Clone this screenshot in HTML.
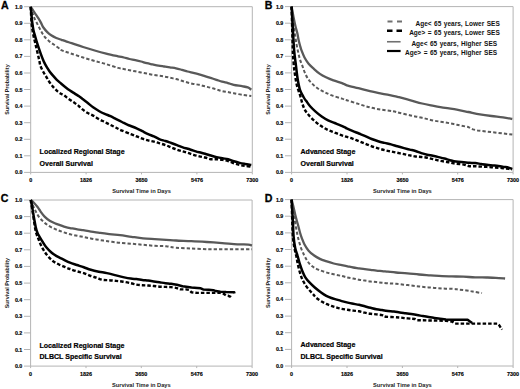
<!DOCTYPE html><html><head><meta charset="utf-8"><style>html,body{margin:0;padding:0;background:#fff;width:520px;height:389px;overflow:hidden}svg{display:block}text{font-family:"Liberation Sans",sans-serif}</style></head><body>
<svg width="520" height="389" viewBox="0 0 520 389">
<rect width="520" height="389" fill="#fff"/>
<path d="M30.7,6.7 H252.3 V172.4 H30.7 Z" fill="none" stroke="#b4b4b4" stroke-width="1"/>
<line x1="24.1" y1="172.4" x2="30.7" y2="172.4" stroke="#b4b4b4" stroke-width="1"/>
<text x="22.4" y="174.4" font-size="5.3" font-weight="bold" text-anchor="end" fill="#000" stroke="#000" stroke-width="0.15">0.0</text>
<line x1="24.1" y1="155.8" x2="30.7" y2="155.8" stroke="#b4b4b4" stroke-width="1"/>
<text x="22.4" y="157.8" font-size="5.3" font-weight="bold" text-anchor="end" fill="#000" stroke="#000" stroke-width="0.15">0.1</text>
<line x1="24.1" y1="139.3" x2="30.7" y2="139.3" stroke="#b4b4b4" stroke-width="1"/>
<text x="22.4" y="141.3" font-size="5.3" font-weight="bold" text-anchor="end" fill="#000" stroke="#000" stroke-width="0.15">0.2</text>
<line x1="24.1" y1="122.7" x2="30.7" y2="122.7" stroke="#b4b4b4" stroke-width="1"/>
<text x="22.4" y="124.7" font-size="5.3" font-weight="bold" text-anchor="end" fill="#000" stroke="#000" stroke-width="0.15">0.3</text>
<line x1="24.1" y1="106.1" x2="30.7" y2="106.1" stroke="#b4b4b4" stroke-width="1"/>
<text x="22.4" y="108.1" font-size="5.3" font-weight="bold" text-anchor="end" fill="#000" stroke="#000" stroke-width="0.15">0.4</text>
<line x1="24.1" y1="89.5" x2="30.7" y2="89.5" stroke="#b4b4b4" stroke-width="1"/>
<text x="22.4" y="91.5" font-size="5.3" font-weight="bold" text-anchor="end" fill="#000" stroke="#000" stroke-width="0.15">0.5</text>
<line x1="24.1" y1="73.0" x2="30.7" y2="73.0" stroke="#b4b4b4" stroke-width="1"/>
<text x="22.4" y="75.0" font-size="5.3" font-weight="bold" text-anchor="end" fill="#000" stroke="#000" stroke-width="0.15">0.6</text>
<line x1="24.1" y1="56.4" x2="30.7" y2="56.4" stroke="#b4b4b4" stroke-width="1"/>
<text x="22.4" y="58.4" font-size="5.3" font-weight="bold" text-anchor="end" fill="#000" stroke="#000" stroke-width="0.15">0.7</text>
<line x1="24.1" y1="39.8" x2="30.7" y2="39.8" stroke="#b4b4b4" stroke-width="1"/>
<text x="22.4" y="41.8" font-size="5.3" font-weight="bold" text-anchor="end" fill="#000" stroke="#000" stroke-width="0.15">0.8</text>
<line x1="24.1" y1="23.3" x2="30.7" y2="23.3" stroke="#b4b4b4" stroke-width="1"/>
<text x="22.4" y="25.3" font-size="5.3" font-weight="bold" text-anchor="end" fill="#000" stroke="#000" stroke-width="0.15">0.9</text>
<line x1="24.1" y1="6.7" x2="30.7" y2="6.7" stroke="#b4b4b4" stroke-width="1"/>
<text x="22.4" y="8.7" font-size="5.3" font-weight="bold" text-anchor="end" fill="#000" stroke="#000" stroke-width="0.15">1.0</text>
<line x1="30.7" y1="172.4" x2="30.7" y2="174.4" stroke="#b4b4b4" stroke-width="1"/>
<text x="30.7" y="182.4" font-size="5.4" font-weight="bold" text-anchor="middle" fill="#000" stroke="#000" stroke-width="0.15">0</text>
<line x1="86.1" y1="172.4" x2="86.1" y2="174.4" stroke="#b4b4b4" stroke-width="1"/>
<text x="86.1" y="182.4" font-size="5.4" font-weight="bold" text-anchor="middle" fill="#000" stroke="#000" stroke-width="0.15">1826</text>
<line x1="141.5" y1="172.4" x2="141.5" y2="174.4" stroke="#b4b4b4" stroke-width="1"/>
<text x="141.5" y="182.4" font-size="5.4" font-weight="bold" text-anchor="middle" fill="#000" stroke="#000" stroke-width="0.15">3650</text>
<line x1="196.9" y1="172.4" x2="196.9" y2="174.4" stroke="#b4b4b4" stroke-width="1"/>
<text x="196.9" y="182.4" font-size="5.4" font-weight="bold" text-anchor="middle" fill="#000" stroke="#000" stroke-width="0.15">5476</text>
<line x1="252.3" y1="172.4" x2="252.3" y2="174.4" stroke="#b4b4b4" stroke-width="1"/>
<text x="252.3" y="182.4" font-size="5.4" font-weight="bold" text-anchor="middle" fill="#000" stroke="#000" stroke-width="0.15">7300</text>
<text x="141.5" y="193.4" font-size="5.7" font-weight="bold" text-anchor="middle" fill="#222">Survival Time in Days</text>
<text transform="translate(9.0,89.5) rotate(-90)" font-size="5.4" font-weight="bold" text-anchor="middle" fill="#222">Survival Probability</text>
<text x="1.0" y="9.0" font-size="10.6" font-weight="bold" fill="#000" stroke="#000" stroke-width="0.3">A</text>
<text x="39.6" y="154.3" font-size="7.05" font-weight="bold" fill="#000" stroke="#000" stroke-width="0.2">Localized Regional Stage</text>
<text x="39.6" y="165.5" font-size="7.05" font-weight="bold" fill="#000" stroke="#000" stroke-width="0.2">Overall Survival</text>
<path d="M30.70,6.80 C31.10,7.40 32.27,9.15 33.10,10.40 C33.93,11.65 34.83,13.02 35.70,14.30 C36.57,15.58 37.43,16.72 38.30,18.10 C39.17,19.48 40.05,21.03 40.90,22.60 C41.75,24.17 42.33,25.92 43.40,27.50 C44.47,29.08 46.00,30.80 47.30,32.10 C48.60,33.40 49.70,34.32 51.20,35.30 C52.70,36.28 54.60,37.25 56.30,38.00 C58.00,38.75 59.68,39.20 61.40,39.80 C63.12,40.40 64.90,41.03 66.60,41.60 C68.30,42.17 68.85,42.30 71.60,43.20 C74.35,44.10 79.25,45.78 83.10,47.00 C86.95,48.22 90.85,49.40 94.70,50.50 C98.55,51.60 102.32,52.63 106.20,53.60 C110.08,54.57 115.07,55.65 118.00,56.30 C120.93,56.95 121.88,57.05 123.80,57.50 C125.72,57.95 127.58,58.57 129.50,59.00 C131.42,59.43 133.37,59.68 135.30,60.10 C137.23,60.52 139.18,60.98 141.10,61.50 C143.02,62.02 144.88,62.72 146.80,63.20 C148.72,63.68 150.67,64.00 152.60,64.40 C154.53,64.80 156.48,65.25 158.40,65.60 C160.32,65.95 162.18,66.20 164.10,66.50 C166.02,66.80 167.92,67.10 169.90,67.40 C171.88,67.70 174.02,67.90 176.00,68.30 C177.98,68.70 179.88,69.27 181.80,69.80 C183.72,70.33 185.58,70.98 187.50,71.50 C189.42,72.02 191.37,72.42 193.30,72.90 C195.23,73.38 197.18,73.87 199.10,74.40 C201.02,74.93 202.88,75.52 204.80,76.10 C206.72,76.68 208.67,77.28 210.60,77.90 C212.53,78.52 214.48,79.17 216.40,79.80 C218.32,80.43 220.18,81.15 222.10,81.70 C224.02,82.25 225.97,82.58 227.90,83.10 C229.83,83.62 231.35,84.28 233.70,84.80 C236.05,85.32 239.65,85.77 242.00,86.20 C244.35,86.63 246.25,86.82 247.80,87.40 C249.35,87.98 250.72,89.32 251.30,89.70" fill="none" stroke="#595959" stroke-width="2.3" stroke-linejoin="round"/>
<path d="M30.70,6.80 C31.00,7.83 31.88,11.12 32.50,13.00 C33.12,14.88 33.65,16.38 34.40,18.10 C35.15,19.82 36.13,21.58 37.00,23.30 C37.87,25.02 38.75,26.80 39.60,28.40 C40.45,30.00 41.25,31.50 42.10,32.90 C42.95,34.30 43.62,35.50 44.70,36.80 C45.78,38.10 47.10,39.42 48.60,40.70 C50.10,41.98 51.98,43.25 53.70,44.50 C55.42,45.75 57.85,47.37 58.90,48.20 C59.95,49.03 59.15,49.00 60.00,49.50 C60.85,50.00 62.07,50.50 64.00,51.20 C65.93,51.90 68.42,52.65 71.60,53.70 C74.78,54.75 79.25,56.28 83.10,57.50 C86.95,58.72 90.85,59.90 94.70,61.00 C98.55,62.10 102.32,62.95 106.20,64.10 C110.08,65.25 115.07,67.08 118.00,67.90 C120.93,68.72 121.88,68.62 123.80,69.00 C125.72,69.38 127.58,69.82 129.50,70.20 C131.42,70.58 133.37,70.92 135.30,71.30 C137.23,71.68 139.18,72.12 141.10,72.50 C143.02,72.88 144.88,73.22 146.80,73.60 C148.72,73.98 150.67,74.47 152.60,74.80 C154.53,75.13 156.48,75.32 158.40,75.60 C160.32,75.88 162.18,76.15 164.10,76.50 C166.02,76.85 167.92,77.28 169.90,77.70 C171.88,78.12 174.02,78.48 176.00,79.00 C177.98,79.52 179.88,80.22 181.80,80.80 C183.72,81.38 185.58,81.98 187.50,82.50 C189.42,83.02 191.37,83.52 193.30,83.90 C195.23,84.28 197.18,84.40 199.10,84.80 C201.02,85.20 202.88,85.82 204.80,86.30 C206.72,86.78 208.67,87.18 210.60,87.70 C212.53,88.22 214.48,88.83 216.40,89.40 C218.32,89.97 220.18,90.65 222.10,91.10 C224.02,91.55 225.97,91.75 227.90,92.10 C229.83,92.45 231.35,92.75 233.70,93.20 C236.05,93.65 239.07,94.33 242.00,94.80 C244.93,95.27 249.75,95.80 251.30,96.00" fill="none" stroke="#595959" stroke-width="2" stroke-dasharray="3.3 2.1" stroke-linejoin="round"/>
<path d="M30.70,6.80 C30.83,8.17 31.25,12.47 31.50,15.00 C31.75,17.53 31.88,19.50 32.20,22.00 C32.52,24.50 32.90,27.58 33.40,30.00 C33.90,32.42 34.60,34.40 35.20,36.50 C35.80,38.60 36.40,40.65 37.00,42.60 C37.60,44.55 38.20,46.40 38.80,48.20 C39.40,50.00 40.00,51.75 40.60,53.40 C41.20,55.05 41.80,56.60 42.40,58.10 C43.00,59.60 43.47,60.88 44.20,62.40 C44.93,63.92 45.90,65.70 46.80,67.20 C47.70,68.70 48.60,70.03 49.60,71.40 C50.60,72.77 51.60,74.00 52.80,75.40 C54.00,76.80 55.43,78.45 56.80,79.80 C58.17,81.15 59.50,82.23 61.00,83.50 C62.50,84.77 64.30,86.23 65.80,87.40 C67.30,88.57 68.50,89.47 70.00,90.50 C71.50,91.53 73.30,92.63 74.80,93.60 C76.30,94.57 77.72,95.42 79.00,96.30 C80.28,97.18 81.13,97.87 82.50,98.90 C83.87,99.93 85.43,101.10 87.20,102.50 C88.97,103.90 91.15,105.88 93.10,107.30 C95.05,108.72 96.97,109.90 98.90,111.00 C100.83,112.10 102.77,113.03 104.70,113.90 C106.63,114.77 108.58,115.33 110.50,116.20 C112.42,117.07 114.28,118.13 116.20,119.10 C118.12,120.07 120.07,121.03 122.00,122.00 C123.93,122.97 126.33,124.23 127.80,124.90 C129.27,125.57 129.33,125.43 130.80,126.00 C132.27,126.57 134.68,127.43 136.60,128.30 C138.52,129.17 140.38,130.23 142.30,131.20 C144.22,132.17 146.17,133.23 148.10,134.10 C150.03,134.97 151.97,135.53 153.90,136.40 C155.83,137.27 157.77,138.53 159.70,139.30 C161.63,140.07 163.58,140.38 165.50,141.00 C167.42,141.62 169.28,142.32 171.20,143.00 C173.12,143.68 175.07,144.37 177.00,145.10 C178.93,145.83 181.00,146.78 182.80,147.40 C184.60,148.02 186.02,148.27 187.80,148.80 C189.58,149.33 191.58,150.02 193.50,150.60 C195.42,151.18 197.37,151.78 199.30,152.30 C201.23,152.82 203.18,153.17 205.10,153.70 C207.02,154.23 208.88,154.93 210.80,155.50 C212.72,156.07 214.67,156.63 216.60,157.10 C218.53,157.57 220.48,157.95 222.40,158.30 C224.32,158.65 226.18,158.70 228.10,159.20 C230.02,159.70 231.97,160.68 233.90,161.30 C235.83,161.92 237.85,162.47 239.70,162.90 C241.55,163.33 243.07,163.57 245.00,163.90 C246.93,164.23 250.25,164.73 251.30,164.90" fill="none" stroke="#000" stroke-width="2.5" stroke-linejoin="round"/>
<path d="M30.70,6.80 C30.85,9.55 31.20,18.83 31.60,23.30 C32.00,27.77 32.52,30.38 33.10,33.60 C33.68,36.82 34.42,39.62 35.10,42.60 C35.78,45.58 36.52,48.60 37.20,51.50 C37.88,54.40 38.65,57.58 39.20,60.00 C39.75,62.42 39.78,63.97 40.50,66.00 C41.22,68.03 42.48,70.32 43.50,72.20 C44.52,74.08 45.57,75.58 46.60,77.30 C47.63,79.02 48.50,80.78 49.70,82.50 C50.90,84.22 52.43,86.07 53.80,87.60 C55.17,89.13 56.70,90.67 57.90,91.70 C59.10,92.73 59.98,93.18 61.00,93.80 C62.02,94.42 62.75,94.57 64.00,95.40 C65.25,96.23 66.98,97.72 68.50,98.80 C70.02,99.88 71.55,100.85 73.10,101.90 C74.65,102.95 76.38,103.97 77.80,105.10 C79.22,106.23 80.02,107.42 81.60,108.70 C83.18,109.98 85.38,111.65 87.30,112.80 C89.22,113.95 91.17,114.55 93.10,115.60 C95.03,116.65 96.97,118.03 98.90,119.10 C100.83,120.17 102.77,121.03 104.70,122.00 C106.63,122.97 108.58,123.93 110.50,124.90 C112.42,125.87 114.28,126.85 116.20,127.80 C118.12,128.75 119.57,129.55 122.00,130.60 C124.43,131.65 128.37,133.13 130.80,134.10 C133.23,135.07 134.68,135.63 136.60,136.40 C138.52,137.17 140.38,138.03 142.30,138.70 C144.22,139.37 146.17,139.92 148.10,140.40 C150.03,140.88 151.97,141.12 153.90,141.60 C155.83,142.08 157.77,142.72 159.70,143.30 C161.63,143.88 163.58,144.42 165.50,145.10 C167.42,145.78 169.28,146.63 171.20,147.40 C173.12,148.17 175.07,149.03 177.00,149.70 C178.93,150.37 181.00,150.87 182.80,151.40 C184.60,151.93 186.02,152.33 187.80,152.90 C189.58,153.47 191.58,154.23 193.50,154.80 C195.42,155.37 197.37,155.85 199.30,156.30 C201.23,156.75 203.18,157.02 205.10,157.50 C207.02,157.98 208.88,158.92 210.80,159.20 C212.72,159.48 214.67,159.10 216.60,159.20 C218.53,159.30 220.48,159.50 222.40,159.80 C224.32,160.10 226.18,160.42 228.10,161.00 C230.02,161.58 231.97,162.63 233.90,163.30 C235.83,163.97 237.85,164.57 239.70,165.00 C241.55,165.43 243.07,165.63 245.00,165.90 C246.93,166.17 250.25,166.48 251.30,166.60" fill="none" stroke="#000" stroke-width="2.4" stroke-dasharray="3.5 2" stroke-linejoin="round"/>
<path d="M291.6,6.6 H513.1 V172.4 H291.6 Z" fill="none" stroke="#b4b4b4" stroke-width="1"/>
<line x1="285.0" y1="172.4" x2="291.6" y2="172.4" stroke="#b4b4b4" stroke-width="1"/>
<text x="283.3" y="174.4" font-size="5.3" font-weight="bold" text-anchor="end" fill="#000" stroke="#000" stroke-width="0.15">0.0</text>
<line x1="285.0" y1="155.8" x2="291.6" y2="155.8" stroke="#b4b4b4" stroke-width="1"/>
<text x="283.3" y="157.8" font-size="5.3" font-weight="bold" text-anchor="end" fill="#000" stroke="#000" stroke-width="0.15">0.1</text>
<line x1="285.0" y1="139.2" x2="291.6" y2="139.2" stroke="#b4b4b4" stroke-width="1"/>
<text x="283.3" y="141.2" font-size="5.3" font-weight="bold" text-anchor="end" fill="#000" stroke="#000" stroke-width="0.15">0.2</text>
<line x1="285.0" y1="122.7" x2="291.6" y2="122.7" stroke="#b4b4b4" stroke-width="1"/>
<text x="283.3" y="124.7" font-size="5.3" font-weight="bold" text-anchor="end" fill="#000" stroke="#000" stroke-width="0.15">0.3</text>
<line x1="285.0" y1="106.1" x2="291.6" y2="106.1" stroke="#b4b4b4" stroke-width="1"/>
<text x="283.3" y="108.1" font-size="5.3" font-weight="bold" text-anchor="end" fill="#000" stroke="#000" stroke-width="0.15">0.4</text>
<line x1="285.0" y1="89.5" x2="291.6" y2="89.5" stroke="#b4b4b4" stroke-width="1"/>
<text x="283.3" y="91.5" font-size="5.3" font-weight="bold" text-anchor="end" fill="#000" stroke="#000" stroke-width="0.15">0.5</text>
<line x1="285.0" y1="72.9" x2="291.6" y2="72.9" stroke="#b4b4b4" stroke-width="1"/>
<text x="283.3" y="74.9" font-size="5.3" font-weight="bold" text-anchor="end" fill="#000" stroke="#000" stroke-width="0.15">0.6</text>
<line x1="285.0" y1="56.3" x2="291.6" y2="56.3" stroke="#b4b4b4" stroke-width="1"/>
<text x="283.3" y="58.3" font-size="5.3" font-weight="bold" text-anchor="end" fill="#000" stroke="#000" stroke-width="0.15">0.7</text>
<line x1="285.0" y1="39.8" x2="291.6" y2="39.8" stroke="#b4b4b4" stroke-width="1"/>
<text x="283.3" y="41.8" font-size="5.3" font-weight="bold" text-anchor="end" fill="#000" stroke="#000" stroke-width="0.15">0.8</text>
<line x1="285.0" y1="23.2" x2="291.6" y2="23.2" stroke="#b4b4b4" stroke-width="1"/>
<text x="283.3" y="25.2" font-size="5.3" font-weight="bold" text-anchor="end" fill="#000" stroke="#000" stroke-width="0.15">0.9</text>
<line x1="285.0" y1="6.6" x2="291.6" y2="6.6" stroke="#b4b4b4" stroke-width="1"/>
<text x="283.3" y="8.6" font-size="5.3" font-weight="bold" text-anchor="end" fill="#000" stroke="#000" stroke-width="0.15">1.0</text>
<line x1="291.6" y1="172.4" x2="291.6" y2="174.4" stroke="#b4b4b4" stroke-width="1"/>
<text x="291.6" y="182.4" font-size="5.4" font-weight="bold" text-anchor="middle" fill="#000" stroke="#000" stroke-width="0.15">0</text>
<line x1="347.0" y1="172.4" x2="347.0" y2="174.4" stroke="#b4b4b4" stroke-width="1"/>
<text x="347.0" y="182.4" font-size="5.4" font-weight="bold" text-anchor="middle" fill="#000" stroke="#000" stroke-width="0.15">1826</text>
<line x1="402.4" y1="172.4" x2="402.4" y2="174.4" stroke="#b4b4b4" stroke-width="1"/>
<text x="402.4" y="182.4" font-size="5.4" font-weight="bold" text-anchor="middle" fill="#000" stroke="#000" stroke-width="0.15">3650</text>
<line x1="457.7" y1="172.4" x2="457.7" y2="174.4" stroke="#b4b4b4" stroke-width="1"/>
<text x="457.7" y="182.4" font-size="5.4" font-weight="bold" text-anchor="middle" fill="#000" stroke="#000" stroke-width="0.15">5476</text>
<line x1="513.1" y1="172.4" x2="513.1" y2="174.4" stroke="#b4b4b4" stroke-width="1"/>
<text x="513.1" y="182.4" font-size="5.4" font-weight="bold" text-anchor="middle" fill="#000" stroke="#000" stroke-width="0.15">7300</text>
<text x="402.4" y="193.4" font-size="5.7" font-weight="bold" text-anchor="middle" fill="#222">Survival Time in Days</text>
<text transform="translate(269.9,89.5) rotate(-90)" font-size="5.4" font-weight="bold" text-anchor="middle" fill="#222">Survival Probability</text>
<text x="264.8" y="9.0" font-size="10.6" font-weight="bold" fill="#000" stroke="#000" stroke-width="0.3">B</text>
<text x="300.5" y="154.3" font-size="7.05" font-weight="bold" fill="#000" stroke="#000" stroke-width="0.2">Advanced Stage</text>
<text x="300.5" y="165.5" font-size="7.05" font-weight="bold" fill="#000" stroke="#000" stroke-width="0.2">Overall Survival</text>
<path d="M291.60,6.60 C291.92,8.32 292.87,13.68 293.50,16.90 C294.13,20.12 294.75,23.12 295.40,25.90 C296.05,28.68 296.87,31.25 297.40,33.60 C297.93,35.95 298.17,38.02 298.60,40.00 C299.03,41.98 299.52,43.78 300.00,45.50 C300.48,47.22 300.75,48.30 301.50,50.30 C302.25,52.30 303.32,55.27 304.50,57.50 C305.68,59.73 307.05,61.82 308.60,63.70 C310.15,65.58 311.92,67.10 313.80,68.80 C315.68,70.50 317.87,72.48 319.90,73.90 C321.93,75.32 323.75,76.22 326.00,77.30 C328.25,78.38 330.73,79.43 333.40,80.40 C336.07,81.37 339.77,82.28 342.00,83.10 C344.23,83.92 344.07,84.45 346.80,85.30 C349.53,86.15 354.55,87.22 358.40,88.20 C362.25,89.18 366.05,90.30 369.90,91.20 C373.75,92.10 377.65,92.83 381.50,93.60 C385.35,94.37 390.08,95.20 393.00,95.80 C395.92,96.40 396.07,96.45 399.00,97.20 C401.93,97.95 406.75,99.25 410.60,100.30 C414.45,101.35 418.25,102.58 422.10,103.50 C425.95,104.42 429.85,105.07 433.70,105.80 C437.55,106.53 441.35,107.25 445.20,107.90 C449.05,108.55 452.93,109.02 456.80,109.70 C460.67,110.38 464.55,111.23 468.40,112.00 C472.25,112.77 476.05,113.63 479.90,114.30 C483.75,114.97 487.65,115.50 491.50,116.00 C495.35,116.50 499.53,116.80 503.00,117.30 C506.47,117.80 510.75,118.72 512.30,119.00" fill="none" stroke="#595959" stroke-width="2.3" stroke-linejoin="round"/>
<path d="M291.60,6.60 C291.82,8.95 292.48,16.85 292.90,20.70 C293.32,24.55 293.68,26.92 294.10,29.70 C294.52,32.48 294.97,34.82 295.40,37.40 C295.83,39.98 296.20,42.57 296.70,45.20 C297.20,47.83 297.85,50.80 298.40,53.20 C298.95,55.60 299.33,57.48 300.00,59.60 C300.67,61.72 301.62,63.78 302.40,65.90 C303.18,68.02 303.78,70.17 304.70,72.30 C305.62,74.43 306.70,76.85 307.90,78.70 C309.10,80.55 310.30,81.82 311.90,83.40 C313.50,84.98 315.52,86.82 317.50,88.20 C319.48,89.58 321.42,90.50 323.80,91.70 C326.18,92.90 328.77,94.25 331.80,95.40 C334.83,96.55 339.50,97.78 342.00,98.60 C344.50,99.42 344.07,99.42 346.80,100.30 C349.53,101.18 354.55,102.72 358.40,103.90 C362.25,105.08 366.05,106.43 369.90,107.40 C373.75,108.37 377.65,109.05 381.50,109.70 C385.35,110.35 390.08,110.80 393.00,111.30 C395.92,111.80 396.07,112.00 399.00,112.70 C401.93,113.40 406.75,114.65 410.60,115.50 C414.45,116.35 418.25,116.95 422.10,117.80 C425.95,118.65 429.85,119.83 433.70,120.60 C437.55,121.37 441.35,121.72 445.20,122.40 C449.05,123.08 452.93,123.92 456.80,124.70 C460.67,125.48 466.47,126.70 468.40,127.10 L473.0,129.4 L477.6,130.5 L491.5,132.1 L503.0,133.5 L512.3,134.5" fill="none" stroke="#595959" stroke-width="2" stroke-dasharray="3.3 2.1" stroke-linejoin="round"/>
<path d="M291.60,6.60 C291.82,10.45 292.48,22.47 292.90,29.70 C293.32,36.93 293.58,43.97 294.10,50.00 C294.62,56.03 295.42,61.12 296.00,65.90 C296.58,70.68 296.93,74.72 297.60,78.70 C298.27,82.68 298.97,86.67 300.00,89.80 C301.03,92.93 302.75,95.62 303.80,97.50 C304.85,99.38 305.25,99.63 306.30,101.10 C307.35,102.57 308.60,104.58 310.10,106.30 C311.60,108.02 313.37,109.68 315.30,111.40 C317.23,113.12 319.57,115.10 321.70,116.60 C323.83,118.10 325.95,119.33 328.10,120.40 C330.25,121.47 332.45,122.13 334.60,123.00 C336.75,123.87 339.10,124.77 341.00,125.60 C342.90,126.43 344.10,127.12 346.00,128.00 C347.90,128.88 350.25,129.98 352.40,130.90 C354.55,131.82 356.75,132.63 358.90,133.50 C361.05,134.37 363.17,135.18 365.30,136.10 C367.43,137.02 369.57,138.15 371.70,139.00 C373.83,139.85 375.95,140.55 378.10,141.20 C380.25,141.85 382.45,142.37 384.60,142.90 C386.75,143.43 388.87,143.83 391.00,144.40 C393.13,144.97 395.23,145.68 397.40,146.30 C399.57,146.92 401.93,147.55 404.00,148.10 C406.07,148.65 407.88,149.12 409.80,149.60 C411.72,150.08 413.58,150.42 415.50,151.00 C417.42,151.58 419.37,152.48 421.30,153.10 C423.23,153.72 425.18,154.25 427.10,154.70 C429.02,155.15 430.88,155.40 432.80,155.80 C434.72,156.20 436.67,156.65 438.60,157.10 C440.53,157.55 442.48,157.98 444.40,158.50 C446.32,159.02 448.18,159.68 450.10,160.20 C452.02,160.72 453.62,161.25 455.90,161.60 C458.18,161.95 461.53,162.10 463.80,162.30 C466.07,162.50 467.58,162.67 469.50,162.80 C471.42,162.93 473.37,162.90 475.30,163.10 C477.23,163.30 479.18,163.72 481.10,164.00 C483.02,164.28 484.88,164.57 486.80,164.80 C488.72,165.03 490.67,165.20 492.60,165.40 C494.53,165.60 496.48,165.75 498.40,166.00 C500.32,166.25 502.38,166.62 504.10,166.90 C505.82,167.18 507.35,167.37 508.70,167.70 C510.05,168.03 511.62,168.70 512.20,168.90" fill="none" stroke="#000" stroke-width="2.5" stroke-linejoin="round"/>
<path d="M291.60,6.60 C291.70,10.50 292.03,24.00 292.20,30.00 C292.37,36.00 292.50,39.27 292.60,42.60 C292.70,45.93 292.70,47.43 292.80,50.00 C292.90,52.57 292.93,54.55 293.20,58.00 C293.47,61.45 293.80,66.20 294.40,70.70 C295.00,75.20 295.82,80.78 296.80,85.00 C297.78,89.22 299.37,92.88 300.30,96.00 C301.23,99.12 301.62,101.35 302.40,103.70 C303.18,106.05 303.92,108.17 305.00,110.10 C306.08,112.03 307.40,113.58 308.90,115.30 C310.40,117.02 312.08,118.68 314.00,120.40 C315.92,122.12 318.27,124.10 320.40,125.60 C322.53,127.10 324.65,128.33 326.80,129.40 C328.95,130.47 331.15,131.13 333.30,132.00 C335.45,132.87 337.58,133.82 339.70,134.60 C341.82,135.38 343.88,136.03 346.00,136.70 C348.12,137.37 350.25,137.85 352.40,138.60 C354.55,139.35 356.75,140.33 358.90,141.20 C361.05,142.07 363.17,142.95 365.30,143.80 C367.43,144.65 369.57,145.55 371.70,146.30 C373.83,147.05 375.95,147.65 378.10,148.30 C380.25,148.95 382.45,149.67 384.60,150.20 C386.75,150.73 388.87,151.07 391.00,151.50 C393.13,151.93 395.23,152.35 397.40,152.80 C399.57,153.25 401.93,153.77 404.00,154.20 C406.07,154.63 407.88,155.02 409.80,155.40 C411.72,155.78 413.58,156.23 415.50,156.50 C417.42,156.77 419.37,156.80 421.30,157.00 C423.23,157.20 425.18,157.35 427.10,157.70 C429.02,158.05 430.88,158.63 432.80,159.10 C434.72,159.57 436.67,160.08 438.60,160.50 C440.53,160.92 442.48,161.27 444.40,161.60 C446.32,161.93 448.18,162.15 450.10,162.50 C452.02,162.85 453.62,163.35 455.90,163.70 C458.18,164.05 461.53,164.18 463.80,164.60 C466.07,165.02 467.58,165.93 469.50,166.20 C471.42,166.47 473.37,166.13 475.30,166.20 C477.23,166.27 479.18,166.48 481.10,166.60 C483.02,166.72 484.88,166.77 486.80,166.90 C488.72,167.03 490.67,167.27 492.60,167.40 C494.53,167.53 496.48,167.55 498.40,167.70 C500.32,167.85 502.38,168.10 504.10,168.30 C505.82,168.50 507.35,168.72 508.70,168.90 C510.05,169.08 511.62,169.32 512.20,169.40" fill="none" stroke="#000" stroke-width="2.4" stroke-dasharray="3.5 2" stroke-linejoin="round"/>
<path d="M30.6,200.0 H252.1 V366.1 H30.6 Z" fill="none" stroke="#b4b4b4" stroke-width="1"/>
<line x1="24.0" y1="366.1" x2="30.6" y2="366.1" stroke="#b4b4b4" stroke-width="1"/>
<text x="22.3" y="368.1" font-size="5.3" font-weight="bold" text-anchor="end" fill="#000" stroke="#000" stroke-width="0.15">0.0</text>
<line x1="24.0" y1="349.5" x2="30.6" y2="349.5" stroke="#b4b4b4" stroke-width="1"/>
<text x="22.3" y="351.5" font-size="5.3" font-weight="bold" text-anchor="end" fill="#000" stroke="#000" stroke-width="0.15">0.1</text>
<line x1="24.0" y1="332.9" x2="30.6" y2="332.9" stroke="#b4b4b4" stroke-width="1"/>
<text x="22.3" y="334.9" font-size="5.3" font-weight="bold" text-anchor="end" fill="#000" stroke="#000" stroke-width="0.15">0.2</text>
<line x1="24.0" y1="316.3" x2="30.6" y2="316.3" stroke="#b4b4b4" stroke-width="1"/>
<text x="22.3" y="318.3" font-size="5.3" font-weight="bold" text-anchor="end" fill="#000" stroke="#000" stroke-width="0.15">0.3</text>
<line x1="24.0" y1="299.7" x2="30.6" y2="299.7" stroke="#b4b4b4" stroke-width="1"/>
<text x="22.3" y="301.7" font-size="5.3" font-weight="bold" text-anchor="end" fill="#000" stroke="#000" stroke-width="0.15">0.4</text>
<line x1="24.0" y1="283.1" x2="30.6" y2="283.1" stroke="#b4b4b4" stroke-width="1"/>
<text x="22.3" y="285.1" font-size="5.3" font-weight="bold" text-anchor="end" fill="#000" stroke="#000" stroke-width="0.15">0.5</text>
<line x1="24.0" y1="266.4" x2="30.6" y2="266.4" stroke="#b4b4b4" stroke-width="1"/>
<text x="22.3" y="268.4" font-size="5.3" font-weight="bold" text-anchor="end" fill="#000" stroke="#000" stroke-width="0.15">0.6</text>
<line x1="24.0" y1="249.8" x2="30.6" y2="249.8" stroke="#b4b4b4" stroke-width="1"/>
<text x="22.3" y="251.8" font-size="5.3" font-weight="bold" text-anchor="end" fill="#000" stroke="#000" stroke-width="0.15">0.7</text>
<line x1="24.0" y1="233.2" x2="30.6" y2="233.2" stroke="#b4b4b4" stroke-width="1"/>
<text x="22.3" y="235.2" font-size="5.3" font-weight="bold" text-anchor="end" fill="#000" stroke="#000" stroke-width="0.15">0.8</text>
<line x1="24.0" y1="216.6" x2="30.6" y2="216.6" stroke="#b4b4b4" stroke-width="1"/>
<text x="22.3" y="218.6" font-size="5.3" font-weight="bold" text-anchor="end" fill="#000" stroke="#000" stroke-width="0.15">0.9</text>
<line x1="24.0" y1="200.0" x2="30.6" y2="200.0" stroke="#b4b4b4" stroke-width="1"/>
<text x="22.3" y="202.0" font-size="5.3" font-weight="bold" text-anchor="end" fill="#000" stroke="#000" stroke-width="0.15">1.0</text>
<line x1="30.6" y1="366.1" x2="30.6" y2="368.1" stroke="#b4b4b4" stroke-width="1"/>
<text x="30.6" y="376.1" font-size="5.4" font-weight="bold" text-anchor="middle" fill="#000" stroke="#000" stroke-width="0.15">0</text>
<line x1="86.0" y1="366.1" x2="86.0" y2="368.1" stroke="#b4b4b4" stroke-width="1"/>
<text x="86.0" y="376.1" font-size="5.4" font-weight="bold" text-anchor="middle" fill="#000" stroke="#000" stroke-width="0.15">1826</text>
<line x1="141.3" y1="366.1" x2="141.3" y2="368.1" stroke="#b4b4b4" stroke-width="1"/>
<text x="141.3" y="376.1" font-size="5.4" font-weight="bold" text-anchor="middle" fill="#000" stroke="#000" stroke-width="0.15">3650</text>
<line x1="196.7" y1="366.1" x2="196.7" y2="368.1" stroke="#b4b4b4" stroke-width="1"/>
<text x="196.7" y="376.1" font-size="5.4" font-weight="bold" text-anchor="middle" fill="#000" stroke="#000" stroke-width="0.15">5476</text>
<line x1="252.1" y1="366.1" x2="252.1" y2="368.1" stroke="#b4b4b4" stroke-width="1"/>
<text x="252.1" y="376.1" font-size="5.4" font-weight="bold" text-anchor="middle" fill="#000" stroke="#000" stroke-width="0.15">7300</text>
<text x="141.3" y="387.1" font-size="5.7" font-weight="bold" text-anchor="middle" fill="#222">Survival Time in Days</text>
<text transform="translate(8.9,283.1) rotate(-90)" font-size="5.4" font-weight="bold" text-anchor="middle" fill="#222">Survival Probability</text>
<text x="0.8" y="202.3" font-size="10.6" font-weight="bold" fill="#000" stroke="#000" stroke-width="0.3">C</text>
<text x="39.5" y="347.5" font-size="7.05" font-weight="bold" fill="#000" stroke="#000" stroke-width="0.2">Localized Regional Stage</text>
<text x="39.5" y="358.7" font-size="7.05" font-weight="bold" fill="#000" stroke="#000" stroke-width="0.2">DLBCL Specific Survival</text>
<path d="M30.60,200.00 C30.88,200.20 31.68,200.67 32.30,201.20 C32.92,201.73 33.45,202.27 34.30,203.20 C35.15,204.13 36.37,205.43 37.40,206.80 C38.43,208.17 39.30,209.77 40.50,211.40 C41.70,213.03 43.07,215.05 44.60,216.60 C46.13,218.15 48.00,219.60 49.70,220.70 C51.40,221.80 53.08,222.47 54.80,223.20 C56.52,223.93 58.17,224.45 60.00,225.10 C61.83,225.75 63.88,226.57 65.80,227.10 C67.72,227.63 69.58,227.92 71.50,228.30 C73.42,228.68 75.37,229.08 77.30,229.40 C79.23,229.72 81.18,229.92 83.10,230.20 C85.02,230.48 86.88,230.78 88.80,231.10 C90.72,231.42 92.67,231.80 94.60,232.10 C96.53,232.40 98.48,232.63 100.40,232.90 C102.32,233.17 104.18,233.45 106.10,233.70 C108.02,233.95 109.58,234.15 111.90,234.40 C114.22,234.65 116.73,234.80 120.00,235.20 C123.27,235.60 127.65,236.28 131.50,236.80 C135.35,237.32 139.25,237.92 143.10,238.30 C146.95,238.68 150.77,238.85 154.60,239.10 C158.43,239.35 162.53,239.57 166.10,239.80 C169.67,240.03 171.78,240.28 176.00,240.50 C180.22,240.72 186.27,240.85 191.40,241.10 C196.53,241.35 201.67,241.67 206.80,242.00 C211.93,242.33 217.08,242.72 222.20,243.10 C227.32,243.48 233.15,244.05 237.50,244.30 C241.85,244.55 245.88,244.40 248.30,244.60 C250.72,244.80 251.38,245.35 252.00,245.50" fill="none" stroke="#595959" stroke-width="2.3" stroke-linejoin="round"/>
<path d="M30.60,200.00 C30.87,200.70 31.58,202.82 32.20,204.20 C32.82,205.58 33.62,206.92 34.30,208.30 C34.98,209.68 35.45,210.95 36.30,212.50 C37.15,214.05 38.20,216.07 39.40,217.60 C40.60,219.13 41.95,220.33 43.50,221.70 C45.05,223.07 46.82,224.60 48.70,225.80 C50.58,227.00 52.92,228.03 54.80,228.90 C56.68,229.77 58.17,230.32 60.00,231.00 C61.83,231.68 63.88,232.40 65.80,233.00 C67.72,233.60 69.58,234.13 71.50,234.60 C73.42,235.07 75.37,235.42 77.30,235.80 C79.23,236.18 81.18,236.52 83.10,236.90 C85.02,237.28 86.88,237.72 88.80,238.10 C90.72,238.48 92.67,238.87 94.60,239.20 C96.53,239.53 98.48,239.80 100.40,240.10 C102.32,240.40 104.18,240.72 106.10,241.00 C108.02,241.28 109.58,241.50 111.90,241.80 C114.22,242.10 116.73,242.48 120.00,242.80 C123.27,243.12 127.65,243.37 131.50,243.70 C135.35,244.03 139.25,244.45 143.10,244.80 C146.95,245.15 150.77,245.55 154.60,245.80 C158.43,246.05 162.53,245.98 166.10,246.30 C169.67,246.62 171.78,247.33 176.00,247.70 C180.22,248.07 186.27,248.25 191.40,248.50 C196.53,248.75 204.23,249.08 206.80,249.20 L222.2,249.2 L237.5,249.2 L252.0,249.2" fill="none" stroke="#595959" stroke-width="2" stroke-dasharray="3.3 2.1" stroke-linejoin="round"/>
<path d="M30.60,200.00 C30.73,200.33 30.93,199.58 31.40,202.00 C31.87,204.42 32.68,210.35 33.40,214.50 C34.12,218.65 35.02,223.82 35.70,226.90 C36.38,229.98 36.85,231.35 37.50,233.00 C38.15,234.65 38.82,235.45 39.60,236.80 C40.38,238.15 41.08,239.35 42.20,241.10 C43.32,242.85 44.77,245.40 46.30,247.30 C47.83,249.20 49.68,251.03 51.40,252.50 C53.12,253.97 54.72,255.00 56.60,256.10 C58.48,257.20 60.47,258.00 62.70,259.10 C64.93,260.20 67.63,261.72 70.00,262.70 C72.37,263.68 74.60,264.23 76.90,265.00 C79.20,265.77 81.48,266.50 83.80,267.30 C86.12,268.10 88.30,269.07 90.80,269.80 C93.30,270.53 96.12,271.15 98.80,271.70 C101.48,272.25 104.02,272.48 106.90,273.10 C109.78,273.72 113.40,274.73 116.10,275.40 C118.80,276.07 120.65,276.57 123.10,277.10 C125.55,277.63 128.57,278.27 130.80,278.60 C133.03,278.93 134.58,278.87 136.50,279.10 C138.42,279.33 140.37,279.75 142.30,280.00 C144.23,280.25 146.18,280.37 148.10,280.60 C150.02,280.83 151.88,281.12 153.80,281.40 C155.72,281.68 157.67,282.00 159.60,282.30 C161.53,282.60 163.48,282.97 165.40,283.20 C167.32,283.43 169.18,283.43 171.10,283.70 C173.02,283.97 174.97,284.37 176.90,284.80 C178.83,285.23 181.73,286.05 182.70,286.30 L191.5,287.5 L197.3,287.9 L200.8,288.3 L203.1,289.4 L208.8,289.8 L213.4,290.2 L215.8,291.1 L220.4,291.7 L226.1,292.1 L234.2,292.3 L234.4,293.5" fill="none" stroke="#000" stroke-width="2.5" stroke-linejoin="round"/>
<path d="M30.60,200.00 C30.93,201.90 31.88,206.92 32.60,211.40 C33.32,215.88 34.25,223.13 34.90,226.90 C35.55,230.67 35.97,232.15 36.50,234.00 C37.03,235.85 37.50,236.47 38.10,238.00 C38.70,239.53 39.25,241.30 40.10,243.20 C40.95,245.10 42.00,247.35 43.20,249.40 C44.40,251.45 45.75,253.62 47.30,255.50 C48.85,257.38 50.62,259.23 52.50,260.70 C54.38,262.17 56.38,263.18 58.60,264.30 C60.82,265.42 63.90,266.62 65.80,267.40 C67.70,268.18 68.15,268.35 70.00,269.00 C71.85,269.65 74.60,270.62 76.90,271.30 C79.20,271.98 81.48,272.32 83.80,273.10 C86.12,273.88 88.68,275.23 90.80,276.00 C92.92,276.77 94.58,277.07 96.50,277.70 C98.42,278.33 100.18,279.38 102.30,279.80 C104.42,280.22 106.90,280.02 109.20,280.20 C111.50,280.38 113.78,280.65 116.10,280.90 C118.42,281.15 120.65,281.32 123.10,281.70 C125.55,282.08 128.57,282.72 130.80,283.20 C133.03,283.68 134.58,284.27 136.50,284.60 C138.42,284.93 140.37,285.05 142.30,285.20 C144.23,285.35 146.18,285.37 148.10,285.50 C150.02,285.63 151.88,285.80 153.80,286.00 C155.72,286.20 157.67,286.55 159.60,286.70 C161.53,286.85 163.48,286.83 165.40,286.90 C167.32,286.97 169.18,286.90 171.10,287.10 C173.02,287.30 175.93,287.93 176.90,288.10 L180.4,289.4 L185.8,289.4 L189.2,290.0 L191.5,292.3 L197.3,292.9 L220.4,292.9 L224.0,294.0 L226.1,295.5 L228.4,295.8 L230.7,296.9 L231.9,298.1" fill="none" stroke="#000" stroke-width="2.4" stroke-dasharray="3.5 2" stroke-linejoin="round"/>
<path d="M291.6,199.6 H513.1 V366.0 H291.6 Z" fill="none" stroke="#b4b4b4" stroke-width="1"/>
<line x1="285.0" y1="366.0" x2="291.6" y2="366.0" stroke="#b4b4b4" stroke-width="1"/>
<text x="283.3" y="368.0" font-size="5.3" font-weight="bold" text-anchor="end" fill="#000" stroke="#000" stroke-width="0.15">0.0</text>
<line x1="285.0" y1="349.4" x2="291.6" y2="349.4" stroke="#b4b4b4" stroke-width="1"/>
<text x="283.3" y="351.4" font-size="5.3" font-weight="bold" text-anchor="end" fill="#000" stroke="#000" stroke-width="0.15">0.1</text>
<line x1="285.0" y1="332.7" x2="291.6" y2="332.7" stroke="#b4b4b4" stroke-width="1"/>
<text x="283.3" y="334.7" font-size="5.3" font-weight="bold" text-anchor="end" fill="#000" stroke="#000" stroke-width="0.15">0.2</text>
<line x1="285.0" y1="316.1" x2="291.6" y2="316.1" stroke="#b4b4b4" stroke-width="1"/>
<text x="283.3" y="318.1" font-size="5.3" font-weight="bold" text-anchor="end" fill="#000" stroke="#000" stroke-width="0.15">0.3</text>
<line x1="285.0" y1="299.4" x2="291.6" y2="299.4" stroke="#b4b4b4" stroke-width="1"/>
<text x="283.3" y="301.4" font-size="5.3" font-weight="bold" text-anchor="end" fill="#000" stroke="#000" stroke-width="0.15">0.4</text>
<line x1="285.0" y1="282.8" x2="291.6" y2="282.8" stroke="#b4b4b4" stroke-width="1"/>
<text x="283.3" y="284.8" font-size="5.3" font-weight="bold" text-anchor="end" fill="#000" stroke="#000" stroke-width="0.15">0.5</text>
<line x1="285.0" y1="266.2" x2="291.6" y2="266.2" stroke="#b4b4b4" stroke-width="1"/>
<text x="283.3" y="268.2" font-size="5.3" font-weight="bold" text-anchor="end" fill="#000" stroke="#000" stroke-width="0.15">0.6</text>
<line x1="285.0" y1="249.5" x2="291.6" y2="249.5" stroke="#b4b4b4" stroke-width="1"/>
<text x="283.3" y="251.5" font-size="5.3" font-weight="bold" text-anchor="end" fill="#000" stroke="#000" stroke-width="0.15">0.7</text>
<line x1="285.0" y1="232.9" x2="291.6" y2="232.9" stroke="#b4b4b4" stroke-width="1"/>
<text x="283.3" y="234.9" font-size="5.3" font-weight="bold" text-anchor="end" fill="#000" stroke="#000" stroke-width="0.15">0.8</text>
<line x1="285.0" y1="216.2" x2="291.6" y2="216.2" stroke="#b4b4b4" stroke-width="1"/>
<text x="283.3" y="218.2" font-size="5.3" font-weight="bold" text-anchor="end" fill="#000" stroke="#000" stroke-width="0.15">0.9</text>
<line x1="285.0" y1="199.6" x2="291.6" y2="199.6" stroke="#b4b4b4" stroke-width="1"/>
<text x="283.3" y="201.6" font-size="5.3" font-weight="bold" text-anchor="end" fill="#000" stroke="#000" stroke-width="0.15">1.0</text>
<line x1="291.6" y1="366.0" x2="291.6" y2="368.0" stroke="#b4b4b4" stroke-width="1"/>
<text x="291.6" y="376.0" font-size="5.4" font-weight="bold" text-anchor="middle" fill="#000" stroke="#000" stroke-width="0.15">0</text>
<line x1="347.0" y1="366.0" x2="347.0" y2="368.0" stroke="#b4b4b4" stroke-width="1"/>
<text x="347.0" y="376.0" font-size="5.4" font-weight="bold" text-anchor="middle" fill="#000" stroke="#000" stroke-width="0.15">1826</text>
<line x1="402.4" y1="366.0" x2="402.4" y2="368.0" stroke="#b4b4b4" stroke-width="1"/>
<text x="402.4" y="376.0" font-size="5.4" font-weight="bold" text-anchor="middle" fill="#000" stroke="#000" stroke-width="0.15">3650</text>
<line x1="457.7" y1="366.0" x2="457.7" y2="368.0" stroke="#b4b4b4" stroke-width="1"/>
<text x="457.7" y="376.0" font-size="5.4" font-weight="bold" text-anchor="middle" fill="#000" stroke="#000" stroke-width="0.15">5476</text>
<line x1="513.1" y1="366.0" x2="513.1" y2="368.0" stroke="#b4b4b4" stroke-width="1"/>
<text x="513.1" y="376.0" font-size="5.4" font-weight="bold" text-anchor="middle" fill="#000" stroke="#000" stroke-width="0.15">7300</text>
<text x="402.4" y="387.0" font-size="5.7" font-weight="bold" text-anchor="middle" fill="#222">Survival Time in Days</text>
<text transform="translate(269.9,282.8) rotate(-90)" font-size="5.4" font-weight="bold" text-anchor="middle" fill="#222">Survival Probability</text>
<text x="264.8" y="202.2" font-size="10.6" font-weight="bold" fill="#000" stroke="#000" stroke-width="0.3">D</text>
<text x="300.5" y="347.4" font-size="7.05" font-weight="bold" fill="#000" stroke="#000" stroke-width="0.2">Advanced Stage</text>
<text x="300.5" y="358.6" font-size="7.05" font-weight="bold" fill="#000" stroke="#000" stroke-width="0.2">DLBCL Specific Survival</text>
<path d="M291.60,199.60 C291.92,200.83 292.88,204.43 293.50,207.00 C294.12,209.57 294.73,212.67 295.30,215.00 C295.87,217.33 296.40,219.17 296.90,221.00 C297.40,222.83 297.80,224.13 298.30,226.00 C298.80,227.87 299.30,230.15 299.90,232.20 C300.50,234.25 301.13,236.25 301.90,238.30 C302.67,240.35 303.38,242.43 304.50,244.50 C305.62,246.57 307.05,248.90 308.60,250.70 C310.15,252.50 311.92,253.93 313.80,255.30 C315.68,256.67 317.87,257.92 319.90,258.90 C321.93,259.88 323.70,260.43 326.00,261.20 C328.30,261.97 331.07,262.85 333.70,263.50 C336.33,264.15 339.50,264.63 341.80,265.10 C344.10,265.57 345.58,265.90 347.50,266.30 C349.42,266.70 351.37,267.17 353.30,267.50 C355.23,267.83 357.18,268.03 359.10,268.30 C361.02,268.57 362.88,268.85 364.80,269.10 C366.72,269.35 368.67,269.55 370.60,269.80 C372.53,270.05 374.48,270.38 376.40,270.60 C378.32,270.82 380.18,270.92 382.10,271.10 C384.02,271.28 385.58,271.47 387.90,271.70 C390.22,271.93 392.73,272.23 396.00,272.50 C399.27,272.77 403.65,272.97 407.50,273.30 C411.35,273.63 415.25,274.17 419.10,274.50 C422.95,274.83 426.77,275.03 430.60,275.30 C434.43,275.57 438.53,275.92 442.10,276.10 C445.67,276.28 448.43,276.30 452.00,276.40 C455.57,276.50 459.65,276.55 463.50,276.70 C467.35,276.85 471.25,277.17 475.10,277.30 C478.95,277.43 483.15,277.42 486.60,277.50 C490.05,277.58 492.72,277.63 495.80,277.80 C498.88,277.97 503.55,278.38 505.10,278.50" fill="none" stroke="#595959" stroke-width="2.3" stroke-linejoin="round"/>
<path d="M291.60,199.60 C291.80,201.33 292.33,206.92 292.80,210.00 C293.27,213.08 293.87,215.20 294.40,218.10 C294.93,221.00 295.48,224.57 296.00,227.40 C296.52,230.23 297.00,232.78 297.50,235.10 C298.00,237.42 298.35,238.98 299.00,241.30 C299.65,243.62 300.52,246.63 301.40,249.00 C302.28,251.37 303.43,253.70 304.30,255.50 C305.17,257.30 305.70,258.38 306.60,259.80 C307.50,261.22 308.50,262.75 309.70,264.00 C310.90,265.25 312.27,266.32 313.80,267.30 C315.33,268.28 316.87,269.07 318.90,269.90 C320.93,270.73 323.53,271.57 326.00,272.30 C328.47,273.03 331.07,273.68 333.70,274.30 C336.33,274.92 339.50,275.47 341.80,276.00 C344.10,276.53 345.58,277.07 347.50,277.50 C349.42,277.93 351.37,278.22 353.30,278.60 C355.23,278.98 357.18,279.47 359.10,279.80 C361.02,280.13 362.88,280.32 364.80,280.60 C366.72,280.88 368.67,281.25 370.60,281.50 C372.53,281.75 374.48,281.90 376.40,282.10 C378.32,282.30 380.18,282.50 382.10,282.70 C384.02,282.90 385.58,283.12 387.90,283.30 C390.22,283.48 392.73,283.50 396.00,283.80 C399.27,284.10 403.65,284.65 407.50,285.10 C411.35,285.55 415.25,286.08 419.10,286.50 C422.95,286.92 426.77,287.27 430.60,287.60 C434.43,287.93 438.33,288.28 442.10,288.50 C445.87,288.72 450.40,288.72 453.20,288.90 C456.00,289.08 456.98,289.38 458.90,289.60 C460.82,289.82 462.77,289.95 464.70,290.20 C466.63,290.45 468.77,290.80 470.50,291.10 C472.23,291.40 473.18,291.67 475.10,292.00 C477.02,292.33 480.85,292.92 482.00,293.10" fill="none" stroke="#595959" stroke-width="2" stroke-dasharray="3.3 2.1" stroke-linejoin="round"/>
<path d="M291.60,199.60 C291.70,201.33 291.98,206.40 292.20,210.00 C292.42,213.60 292.67,216.77 292.90,221.20 C293.13,225.63 293.22,232.13 293.60,236.60 C293.98,241.07 294.53,244.77 295.20,248.00 C295.87,251.23 296.82,253.30 297.60,256.00 C298.38,258.70 299.08,261.63 299.90,264.20 C300.72,266.77 301.57,269.17 302.50,271.40 C303.43,273.63 304.30,275.72 305.50,277.60 C306.70,279.48 308.15,281.05 309.70,282.70 C311.25,284.35 312.90,285.87 314.80,287.50 C316.70,289.13 319.18,291.12 321.10,292.50 C323.02,293.88 324.58,294.88 326.30,295.80 C328.02,296.72 329.68,297.37 331.40,298.00 C333.12,298.63 334.88,299.08 336.60,299.60 C338.32,300.12 340.00,300.63 341.70,301.10 C343.40,301.57 345.08,301.98 346.80,302.40 C348.52,302.82 349.95,303.20 352.00,303.60 C354.05,304.00 356.97,304.35 359.10,304.80 C361.23,305.25 362.88,305.80 364.80,306.30 C366.72,306.80 368.67,307.32 370.60,307.80 C372.53,308.28 374.48,308.82 376.40,309.20 C378.32,309.58 380.18,309.82 382.10,310.10 C384.02,310.38 385.92,310.67 387.90,310.90 C389.88,311.13 392.02,311.23 394.00,311.50 C395.98,311.77 397.88,312.20 399.80,312.50 C401.72,312.80 403.58,313.03 405.50,313.30 C407.42,313.57 409.37,313.82 411.30,314.10 C413.23,314.38 415.18,314.67 417.10,315.00 C419.02,315.33 420.88,315.75 422.80,316.10 C424.72,316.45 426.67,316.80 428.60,317.10 C430.53,317.40 432.48,317.63 434.40,317.90 C436.32,318.17 438.18,318.45 440.10,318.70 C442.02,318.95 444.93,319.28 445.90,319.40 L452.6,319.8 L467.6,319.8 L470.0,321.5 L472.2,323.0" fill="none" stroke="#000" stroke-width="2.5" stroke-linejoin="round"/>
<path d="M291.60,199.60 C291.70,203.00 291.98,213.83 292.20,220.00 C292.42,226.17 292.53,231.93 292.90,236.60 C293.27,241.27 293.83,244.77 294.40,248.00 C294.97,251.23 295.73,253.30 296.30,256.00 C296.87,258.70 297.20,261.45 297.80,264.20 C298.40,266.95 299.12,269.92 299.90,272.50 C300.68,275.08 301.48,277.48 302.50,279.70 C303.52,281.92 304.72,283.92 306.00,285.80 C307.28,287.68 308.90,289.47 310.20,291.00 C311.50,292.53 312.83,293.90 313.80,295.00 C314.77,296.10 314.78,296.57 316.00,297.60 C317.22,298.63 319.38,300.15 321.10,301.20 C322.82,302.25 324.58,303.12 326.30,303.90 C328.02,304.68 329.68,305.30 331.40,305.90 C333.12,306.50 334.88,307.02 336.60,307.50 C338.32,307.98 339.88,308.42 341.70,308.80 C343.52,309.18 345.57,309.50 347.50,309.80 C349.43,310.10 351.37,310.35 353.30,310.60 C355.23,310.85 357.18,310.95 359.10,311.30 C361.02,311.65 362.88,312.28 364.80,312.70 C366.72,313.12 368.67,313.52 370.60,313.80 C372.53,314.08 374.48,314.17 376.40,314.40 C378.32,314.63 380.57,314.82 382.10,315.20 C383.63,315.58 383.62,316.38 385.60,316.70 C387.58,317.02 391.63,316.97 394.00,317.10 C396.37,317.23 397.88,317.32 399.80,317.50 C401.72,317.68 403.58,318.00 405.50,318.20 C407.42,318.40 410.33,318.62 411.30,318.70 L415.0,319.0 L417.1,320.2 L445.9,320.8 L448.0,321.0 L452.6,321.8 L454.9,323.6 L497.6,323.6 L499.3,325.3 L502.0,329.6" fill="none" stroke="#000" stroke-width="2.4" stroke-dasharray="3.5 2" stroke-linejoin="round"/>
<line x1="387.5" y1="21.4" x2="402" y2="21.4" stroke="#707070" stroke-width="2" stroke-dasharray="5 4.5"/>
<text x="499.75" y="25.70" font-size="6.5" font-weight="bold" word-spacing="0.7" text-anchor="end" fill="#111">Age&lt; 65 years, Lower SES</text>
<line x1="387" y1="30.75" x2="402" y2="30.75" stroke="#000" stroke-width="2.4" stroke-dasharray="5.5 4"/>
<text x="499.75" y="35.05" font-size="6.5" font-weight="bold" word-spacing="0.7" text-anchor="end" fill="#111">Age&gt; = 65 years, Lower SES</text>
<line x1="387" y1="41.75" x2="400.6" y2="41.75" stroke="#707070" stroke-width="1.6"/>
<text x="497.1" y="46.05" font-size="6.5" font-weight="bold" word-spacing="0.7" text-anchor="end" fill="#111">Age&lt; 65 years, Higher SES</text>
<line x1="387" y1="51.0" x2="400.6" y2="51.0" stroke="#000" stroke-width="2.2"/>
<text x="497.1" y="55.30" font-size="6.5" font-weight="bold" word-spacing="0.7" text-anchor="end" fill="#111">Age&gt; = 65 years, Higher SES</text>
</svg></body></html>
